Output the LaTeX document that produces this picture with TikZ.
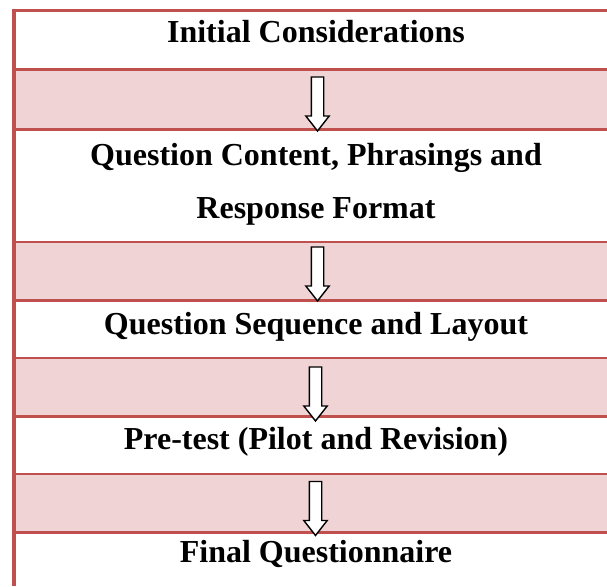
\documentclass[tikz,border=0pt]{standalone}
\usepackage{fontspec}
\setmainfont{Liberation Serif}
\usetikzlibrary{shapes.arrows}

\definecolor{rulered}{RGB}{192,80,77}
\definecolor{bandpink}{RGB}{240,211,212}

\tikzset{
  band/.style={fill=bandpink, draw=none},
  rule/.style={draw=rulered, line width=3pt},
  thinrule/.style={draw=rulered, line width=2.2pt},
  stagetext/.style={inner sep=0pt, anchor=base, align=center,
    font=\bfseries\fontsize{32}{53}\selectfont},
  downarrow/.style={single arrow, draw=black, fill=white, line width=1.4pt,
    inner sep=5.5pt, single arrow head extend=5.5pt,
    single arrow tip angle=76, minimum height=54pt,
    shape border rotate=270},
}

\begin{document}
\begin{tikzpicture}[x=1pt, y=-1pt]
  \useasboundingbox (0,0) rectangle (607,586);
  \fill[white] (0,0) rectangle (607,586);

  % shaded bands between the stages
  \fill[band] (14,69.5) rectangle (607,129.5);
  \fill[band] (14,241.5) rectangle (607,300);
  \fill[band] (14,358) rectangle (607,416);
  \fill[band] (14,474) rectangle (607,533);

  % horizontal rules
  \draw[thinrule] (12,10.5) -- (607,10.5);
  \draw[rule] (12,69.5) -- (607,69.5);
  \draw[rule] (12,129.5) -- (607,129.5);
  \draw[thinrule] (12,242) -- (607,242);
  \draw[rule] (12,300) -- (607,300);
  \draw[thinrule] (12,358) -- (607,358);
  \draw[rule] (12,416) -- (607,416);
  \draw[thinrule] (12,474) -- (607,474);
  \draw[rule] (12,532.5) -- (607,532.5);

  % left border
  \draw[draw=rulered, line width=4pt] (13.5,9.5) -- (13.5,586);

  % stage labels (a two-line node sits on its last baseline)
  \node[stagetext] (s1) at (316,43) {Initial Considerations};
  \node[stagetext] (s2) at (316,218) {Question Content, Phrasings and\\Response Format};
  \node[stagetext] (s3) at (316,334) {Question Sequence and Layout};
  \node[stagetext] (s4) at (316,449) {Pre-test (Pilot and Revision)};
  \node[stagetext] (s5) at (316,562) {Final Questionnaire};

  % block arrows
  \node[downarrow] (a1) at (317.5,100) {};
  \node[downarrow] (a2) at (317.5,270) {};
  \node[downarrow] (a3) at (315.5,390) {};
  \node[downarrow] (a4) at (315.5,504.5) {};
\end{tikzpicture}
\end{document}
